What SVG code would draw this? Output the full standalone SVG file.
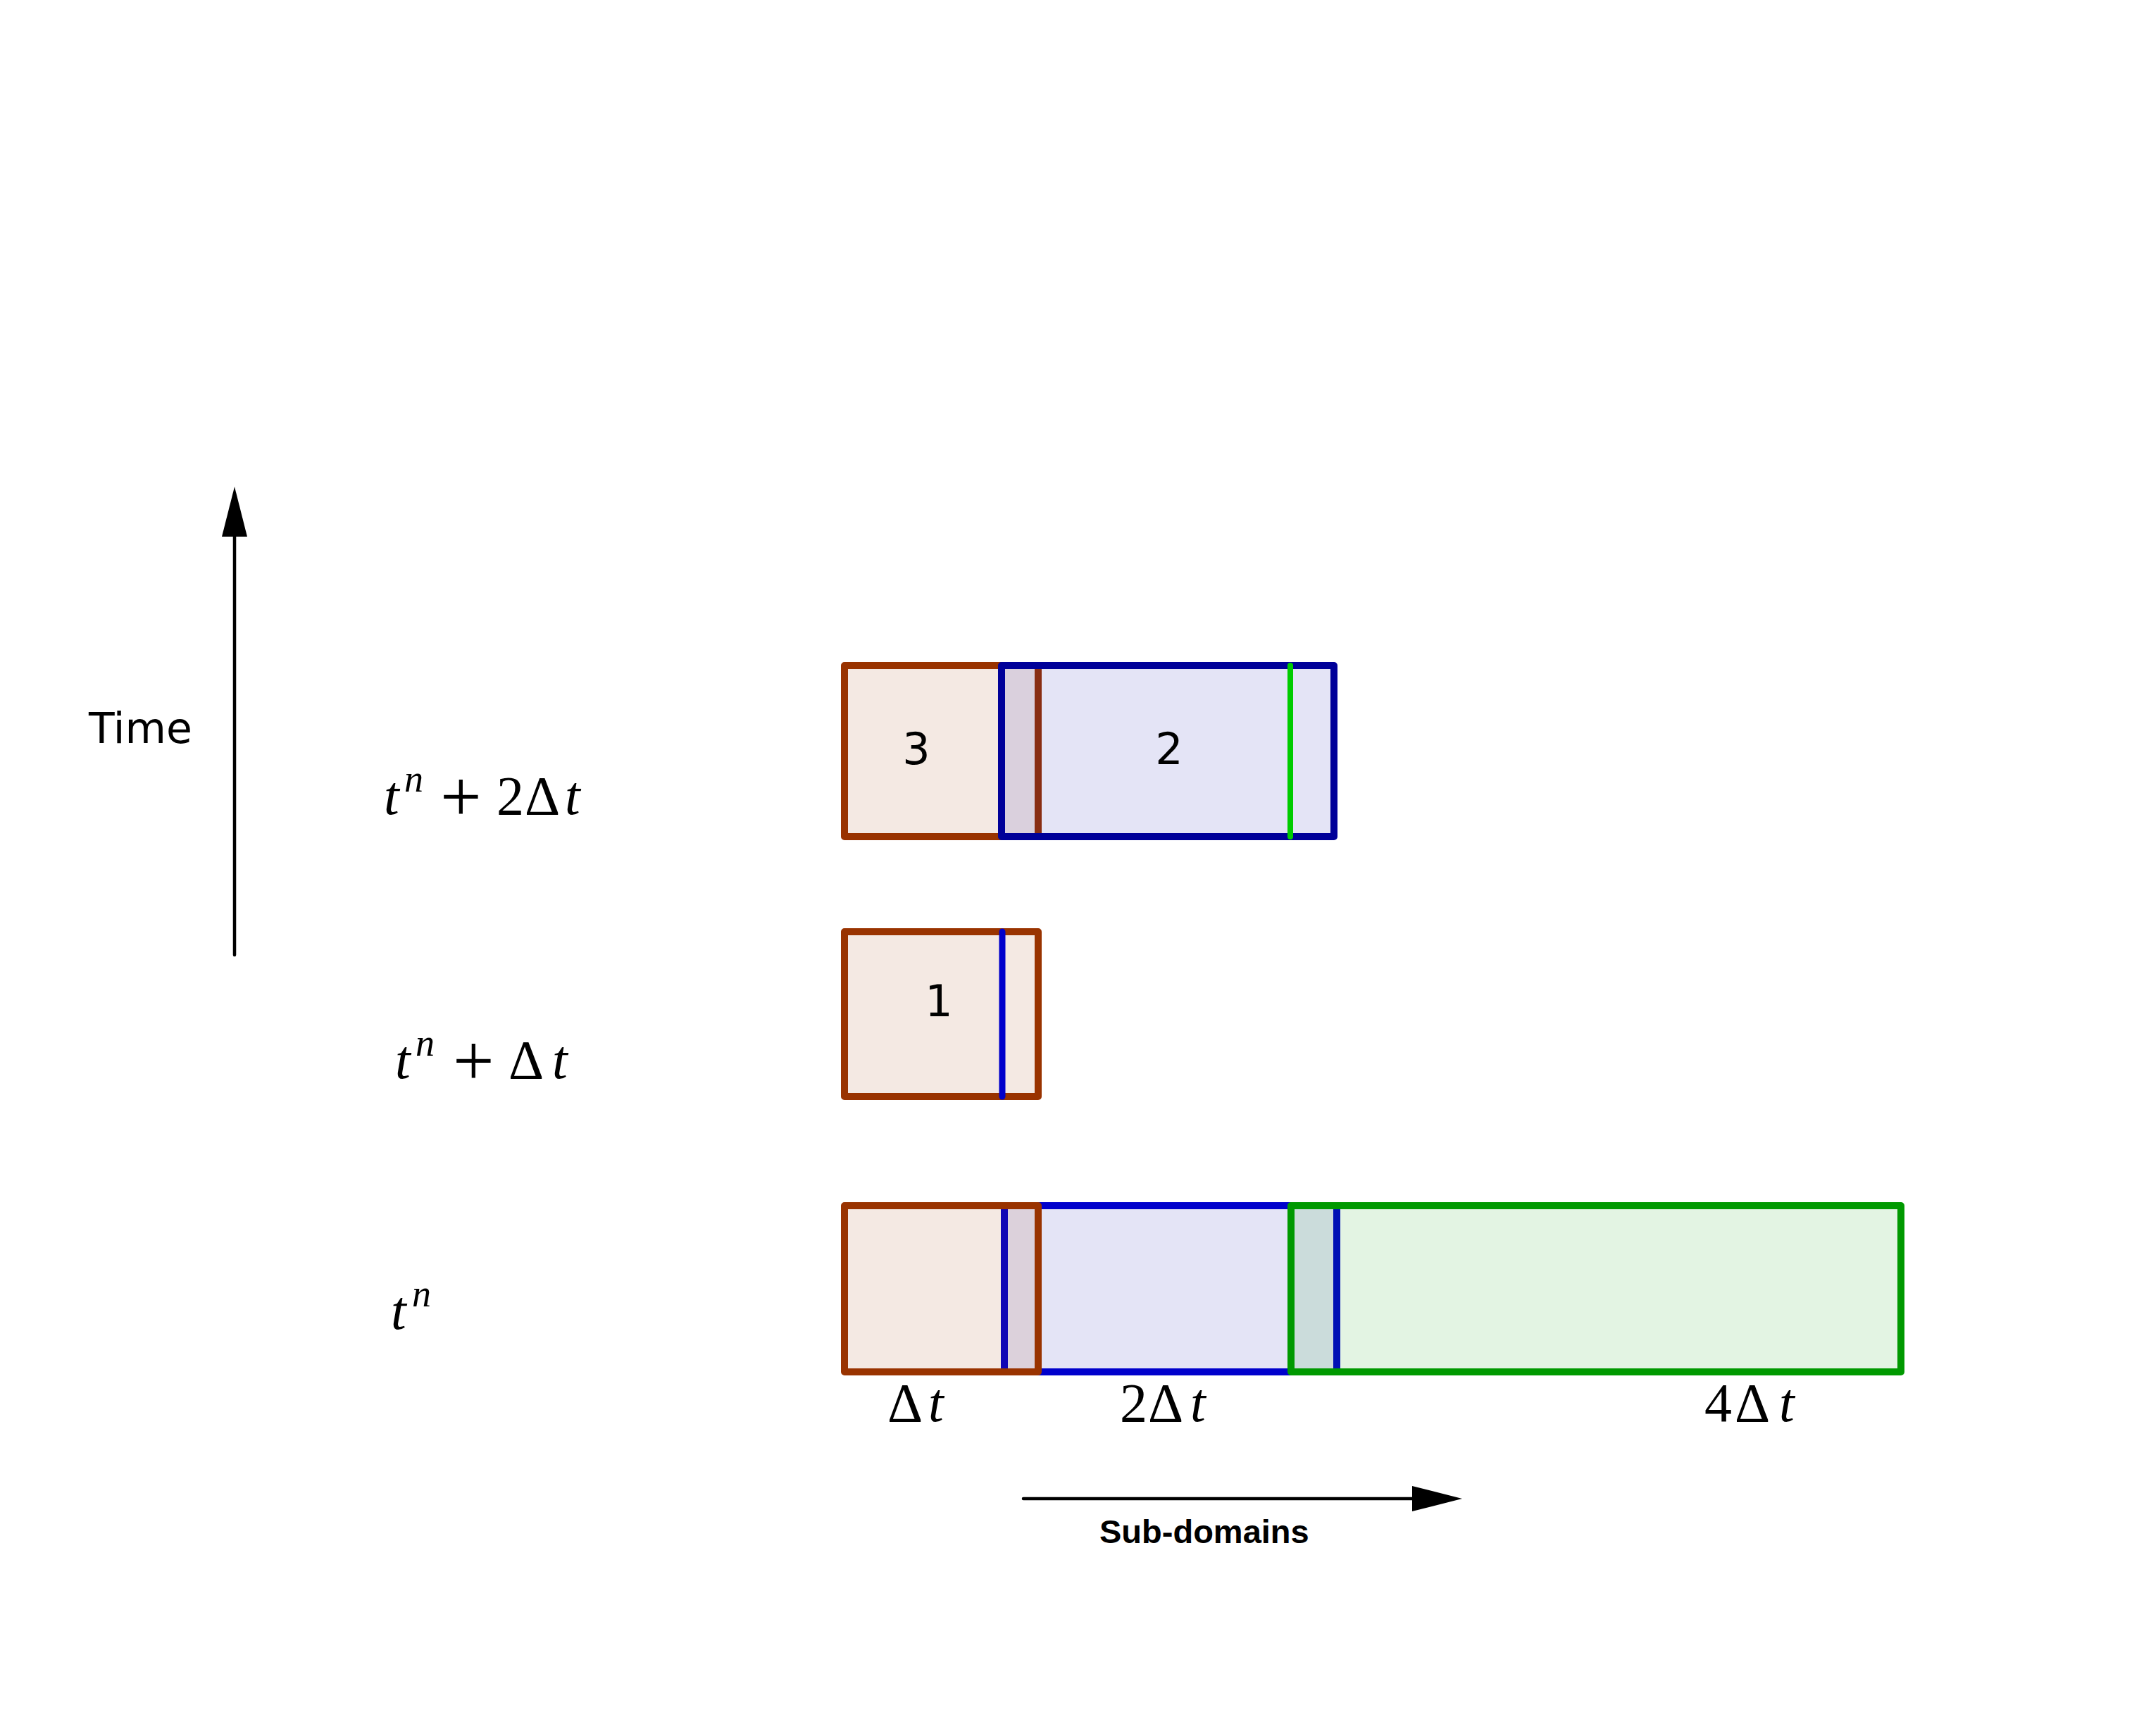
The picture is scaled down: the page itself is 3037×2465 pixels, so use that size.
<svg xmlns="http://www.w3.org/2000/svg" width="3037" height="2465" viewBox="0 0 3037 2465">
<defs>
<style>
.box{stroke-width:10;stroke-linejoin:round}
.brown{stroke:#993300;fill:rgba(153,51,0,0.11)}
.blueD{stroke:#000099;fill:rgba(0,0,170,0.106)}
.blueB{stroke:#0000CC;fill:rgba(0,0,170,0.106)}
.green{stroke:#009900;fill:rgba(0,153,0,0.11)}
.num{font-family:"DejaVu Sans",sans-serif;font-size:62px;fill:#000;text-anchor:middle}
.math{font-family:"Liberation Serif","Times New Roman",serif;font-size:78px;fill:#000}
.it{font-style:italic}
.sup{font-size:54px;font-style:italic}
.plus{font-size:104px}
.axis{stroke:#000;stroke-width:4.5;stroke-linecap:round;fill:none}
</style>
<marker id="ah" markerUnits="userSpaceOnUse" markerWidth="72" markerHeight="40" refX="0" refY="20" orient="auto" viewBox="0 0 72 40">
<path d="M0,2 L71,20 L0,38 Z" fill="#000"/>
</marker>
</defs>
<rect width="3037" height="2465" fill="#fff"/>

<g id="connectors">
<line class="axis" x1="333" y1="1356" x2="333" y2="762" marker-end="url(#ah)"/>
<line class="axis" x1="1453" y1="2128" x2="2005" y2="2128" marker-end="url(#ah)"/>
</g>

<g id="row-t2">
<g id="sub3-t2"><rect class="box brown" x="1199" y="945" width="275" height="243"/></g>
<g id="sub2-t2"><rect class="box blueD" x="1422" y="945" width="472" height="243"/>
<line x1="1832" y1="945" x2="1832" y2="1188" stroke="#00CC00" stroke-width="8" stroke-linecap="round"/></g>
<text class="num" x="1301" y="1085">3</text>
<text class="num" x="1660" y="1085">2</text>
</g>

<g id="row-t1">
<g id="sub1-t1"><rect class="box brown" x="1199" y="1323" width="275" height="234"/>
<line x1="1423" y1="1323" x2="1423" y2="1557" stroke="#0000CC" stroke-width="9" stroke-linecap="round"/></g>
<text class="num" x="1333" y="1443">1</text>
</g>

<g id="row-t0">
<g id="sub2-t0"><rect class="box blueB" x="1426" y="1712" width="472" height="236"/></g>
<g id="sub1-t0"><rect class="box brown" x="1199" y="1712" width="275" height="236"/></g>
<g id="sub3-t0"><rect class="box green" x="1833" y="1712" width="866" height="236"/></g>
</g>

<g id="labels">
<text x="126" y="1055" font-family="DejaVu Sans,sans-serif" font-size="60">Time</text>
<text class="math" y="1156"><tspan class="it" x="545">t</tspan><tspan class="sup" x="574" dy="-32">n</tspan><tspan class="plus" x="625" dy="42">+</tspan><tspan x="705" dy="-10">2</tspan><tspan x="745">Δ</tspan><tspan class="it" x="802">t</tspan></text>
<text class="math" y="1531"><tspan class="it" x="561">t</tspan><tspan class="sup" x="590" dy="-32">n</tspan><tspan class="plus" x="643" dy="42">+</tspan><tspan x="722" dy="-10">Δ</tspan><tspan class="it" x="784">t</tspan></text>
<text class="math" y="1887"><tspan class="it" x="555">t</tspan><tspan class="sup" x="585" dy="-32">n</tspan></text>
<text class="math" y="2018"><tspan x="1260">Δ</tspan><tspan class="it" x="1318">t</tspan></text>
<text class="math" y="2018"><tspan x="1590">2</tspan><tspan x="1630">Δ</tspan><tspan class="it" x="1690">t</tspan></text>
<text class="math" y="2018"><tspan x="2420">4</tspan><tspan x="2463">Δ</tspan><tspan class="it" x="2526">t</tspan></text>
<text x="1561" y="2191" font-family="Liberation Sans,Arial,sans-serif" font-weight="bold" font-size="47">Sub-domains</text>
</g>
</svg>
